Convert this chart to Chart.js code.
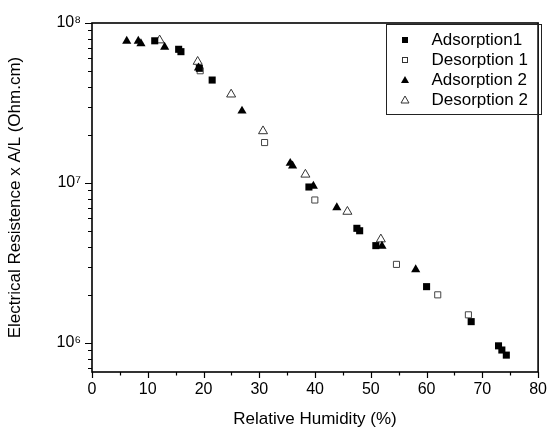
<!DOCTYPE html>
<html>
<head>
<meta charset="utf-8">
<script src="https://cdn.jsdelivr.net/npm/chart.js@4/dist/chart.umd.min.js"></script>
<style>
  body { margin: 0; background: #fff; }
</style>
</head>
<body>
<canvas id="myChart" width="555" height="430"></canvas>
<script>
// relative humidity (%) and resistance x A/L (Ohm.cm)
const rhAds1 = [11.25, 15.54, 15.95, 19.25, 21.55, 38.9, 47.5, 48.0, 50.9, 60.0, 68.0, 72.9, 73.5, 74.3];
const resAds1 = [7.74e7, 6.85e7, 6.62e7, 5.21e7, 4.40e7, 9.44e6, 5.21e6, 5.03e6, 4.06e6, 2.25e6, 1.36e6, 9.6e5, 9.04e5, 8.4e5];
const rhDes1 = [19.4, 30.95, 39.96, 54.6, 62.0, 67.5];
const resDes1 = [5.03e7, 1.79e7, 7.83e6, 3.10e6, 2.0e6, 1.5e6];
const rhAds2 = [6.23, 8.3, 8.78, 13.03, 19.1, 26.9, 35.55, 35.97, 39.7, 43.9, 52.0, 58.05];
const resAds2 = [7.72e7, 7.72e7, 7.43e7, 7.08e7, 5.25e7, 2.82e7, 1.33e7, 1.28e7, 9.56e6, 7.02e6, 4.04e6, 2.88e6];
const rhDes2 = [12.13, 18.95, 24.95, 30.67, 38.27, 45.8, 51.8];
const resDes2 = [7.8e7, 5.73e7, 3.58e7, 2.11e7, 1.13e7, 6.62e6, 4.45e6];

const seriesNames = ['Adsorption1', 'Desorption 1', 'Adsorption 2', 'Desorption 2'];
const yDecades = [1e6, 1e7, 1e8];
const yLabels = ['10\u2076', '10\u2077', '10\u2078'];
const xMin = 0, xMax = 80, xStep = 10;
const yMin = 6.588e5, yMax = 1e8;

function pts(xs, ys) {
  return xs.map((x, i) => ({x: x, y: ys[i]}));
}

// small legend icons
function icon(shape, filled) {
  const c = document.createElement('canvas');
  c.width = 12; c.height = 12;
  const g = c.getContext('2d');
  g.fillStyle = '#000';
  g.strokeStyle = '#333';
  g.lineWidth = 1;
  if (shape === 'rect') {
    if (filled) g.fillRect(3, 3, 6, 6);
    else g.strokeRect(3.5, 3.5, 5, 5);
  } else {
    g.beginPath();
    g.moveTo(6, 2); g.lineTo(10, 9); g.lineTo(2, 9); g.closePath();
    if (filled) g.fill(); else g.stroke();
  }
  return c;
}
const icons = [icon('rect', true), icon('rect', false), icon('tri', true), icon('tri', false)];

const FONT = 'Liberation Sans, Arial, Helvetica, sans-serif';
Chart.defaults.font.family = FONT;
Chart.defaults.color = '#000';

const frame = {
  id: 'frame',
  afterLayout(chart) {
    // move the legend into the top right corner of the plot
    const lg = chart.legend;
    const h = lg.height;
    lg.left = 384; lg.top = 28.5;
    lg.right = 542;
    lg.bottom = lg.top + h;
  },
  afterDraw(chart) {
    const ctx = chart.ctx;
    const a = chart.chartArea;
    const xs = chart.scales.x, ys = chart.scales.y;
    ctx.save();
    ctx.strokeStyle = '#000';
    ctx.lineWidth = 1.2;
    ctx.beginPath();
    for (let v = xMin; v <= xMax; v += xStep / 2) {
      const px = Math.round(xs.getPixelForValue(v)) + 0.5;
      const len = v % xStep === 0 ? 6 : 3.5;
      ctx.moveTo(px, a.bottom); ctx.lineTo(px, a.bottom + len);
    }
    for (let e = 5; e <= 8; e++) {
      for (let k = 1; k <= 9; k++) {
        const v = k * Math.pow(10, e);
        if (v < yMin || v > yMax) continue;
        const py = Math.round(ys.getPixelForValue(v)) + 0.5;
        const len = k === 1 ? 7 : 4;
        ctx.moveTo(a.left, py); ctx.lineTo(a.left - len, py);
      }
    }
    ctx.stroke();
    ctx.lineWidth = 1.6;
    ctx.strokeRect(a.left, a.top, a.right - a.left, a.bottom - a.top);
    // legend box
    ctx.lineWidth = 1;
    ctx.strokeStyle = '#222';
    ctx.strokeRect(386.5, 24.5, 155, 90);
    ctx.restore();
  }
};

const ctx = document.getElementById('myChart').getContext('2d');
const chart = new Chart(ctx, {
  type: 'scatter',
  data: {
    datasets: [{
      label: seriesNames[0],
      data: pts(rhAds1, resAds1),
      pointStyle: 'rect',
      pointRadius: 5,
      backgroundColor: '#000',
      borderColor: '#000',
      borderWidth: 0
    }, {
      label: seriesNames[1],
      data: pts(rhDes1, resDes1),
      pointStyle: 'rect',
      pointRadius: 4.3,
      backgroundColor: '#fff',
      borderColor: '#444',
      borderWidth: 1
    }, {
      label: seriesNames[2],
      data: pts(rhAds2, resAds2),
      pointStyle: 'triangle',
      pointRadius: 5.3,
      backgroundColor: '#000',
      borderColor: '#000',
      borderWidth: 0
    }, {
      label: seriesNames[3],
      data: pts(rhDes2, resDes2),
      pointStyle: 'triangle',
      pointRadius: 5.2,
      backgroundColor: '#fff',
      borderColor: '#333',
      borderWidth: 1
    }]
  },
  options: {
    responsive: false,
    animation: false,
    events: [],
    devicePixelRatio: 1,
    layout: { padding: { top: 23, right: 10, left: 0, bottom: 0 } },
    plugins: {
      tooltip: { enabled: false },
      legend: {
        position: 'chartArea',
        align: 'start',
        labels: {
          usePointStyle: true,
          pointStyleWidth: 36,
          boxWidth: 36,
          boxHeight: 12,
          padding: 3,
          color: '#000',
          font: { size: 17, family: FONT },
          generateLabels(chart) {
            const items = Chart.defaults.plugins.legend.labels.generateLabels(chart);
            items.forEach((it, i) => { it.pointStyle = icons[i]; });
            return items;
          }
        }
      }
    },
    scales: {
      x: {
        type: 'linear',
        min: xMin,
        max: xMax,
        afterFit(s) { s.height = 58; },
        grid: { display: false, drawTicks: false, tickLength: 0 },
        border: { display: false },
        ticks: { stepSize: xStep, padding: 8, maxRotation: 0, font: { size: 16 }, color: '#000' },
        title: { display: true, text: 'Relative Humidity (%)', font: { size: 17 }, color: '#000', padding: { top: 0, bottom: 0 } }
      },
      y: {
        type: 'logarithmic',
        min: yMin,
        max: yMax,
        afterFit(s) { s.width = 92; },
        grid: { display: false, drawTicks: false, tickLength: 0 },
        border: { display: false },
        ticks: {
          autoSkip: false,
          padding: 11,
          font: { size: 16 },
          color: '#000',
          callback(v) {
            const i = yDecades.findIndex(d => Math.abs(d - v) / d < 1e-6);
            return i >= 0 ? yLabels[i] : '';
          }
        },
        title: { display: true, text: 'Electrical Resistence x A/L (Ohm.cm)', font: { size: 17 }, color: '#000', padding: { top: 5, bottom: 0 } }
      }
    }
  },
  plugins: [frame]
});
</script>
</body>
</html>
